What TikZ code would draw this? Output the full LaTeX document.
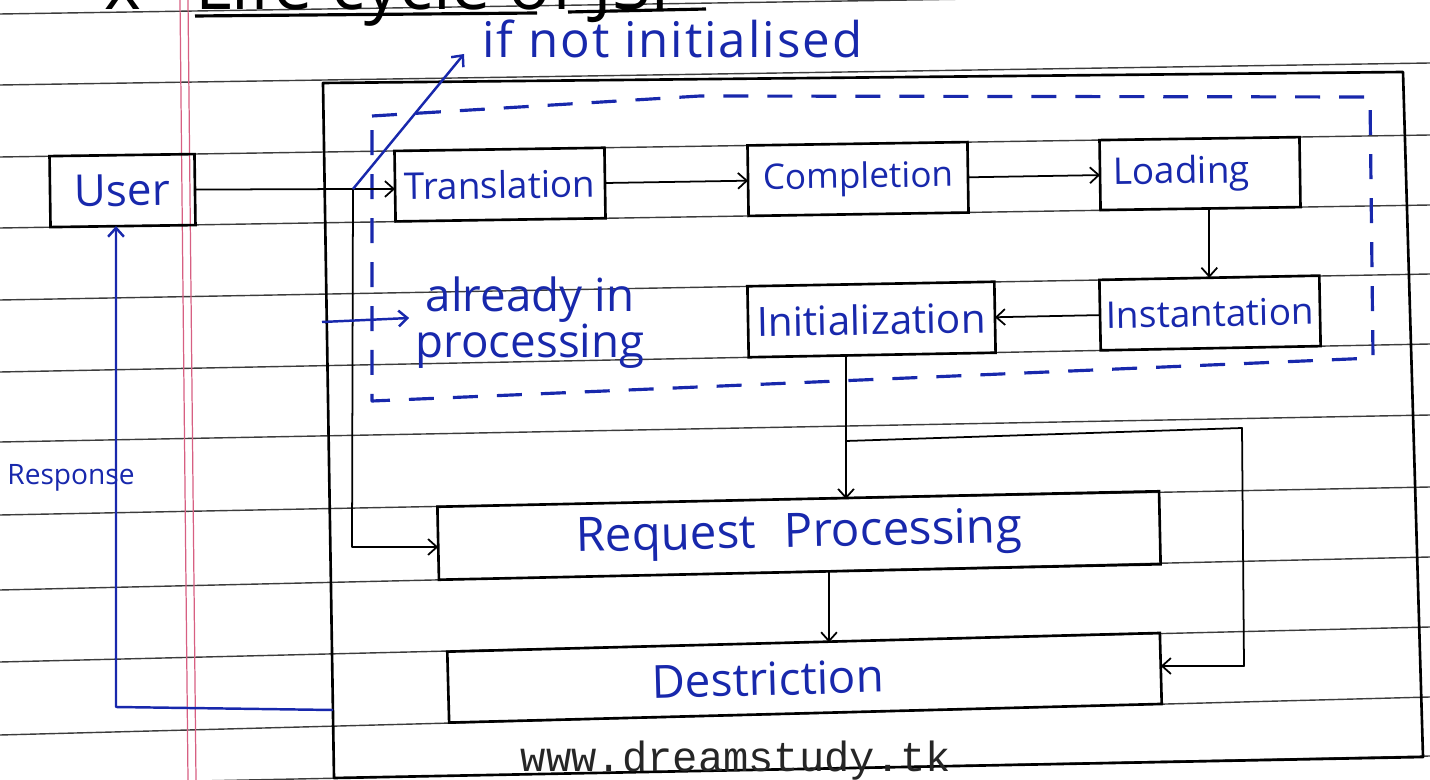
\documentclass[tikz,border=0pt]{standalone}
\usepackage{fontspec}
\newfontfamily\hand{Open Sans}
\newfontfamily\mono{Liberation Mono}
\usetikzlibrary{arrows.meta,calc}

\definecolor{ink}{RGB}{24,40,172}
\definecolor{rulegray}{RGB}{60,60,60}
\definecolor{marginred}{RGB}{215,95,130}

\tikzset{
  ruled/.style={draw=rulegray, line width=0.8pt},
  marginline/.style={draw=marginred, line width=0.7pt},
  stage/.style={draw=black, line width=1.5pt, inner sep=0pt, outer sep=0pt,
                text=ink, font=\hand\fontsize{21}{21}\selectfont},
  bigstage/.style={stage, font=\hand\fontsize{27}{27}\selectfont},
  wire/.style={draw=black, line width=1pt, line join=round},
  conn/.style={wire, -{Straight Barb[length=5pt,width=9pt]}},
  blueline/.style={draw=ink, line width=1.4pt, line join=round},
  bluearr/.style={blueline, -{Straight Barb[length=5pt,width=9pt]}},
  note/.style={text=ink, inner sep=0pt, font=\hand\fontsize{26}{20.5}\selectfont},
  penline/.style={draw=black, line width=1.5pt, line join=round},
  heading/.style={inner sep=0pt, text depth=0pt, font=\hand\fontsize{40}{40}\selectfont},
}

\begin{document}
\begin{tikzpicture}[x=0.02cm, y=-0.02cm]
\useasboundingbox (0,0) rectangle (1430,780);
\begin{scope}
\clip (0,0) rectangle (1430,780);

% ruled notebook paper
\foreach \yl/\yr in {14/-8, 85/63, 157/135, 228/205, 300/274, 372/344,
                     442/415, 515/487, 590/557, 662/627, 735/697, 785/756}
  \draw[ruled] (0,\yl) -- (1430,\yr);
\draw[marginline] (180,0) -- (188,780);
\draw[marginline] (188,0) -- (196,780);

% heading, mostly above the top edge of the page
\node[heading, anchor=base] (bullet) at (123,10) {x};
\node[heading, anchor=base west] (title) at (195,10) {Life cycle of JSP};
\draw[penline, line width=1.8pt] (195,16) -- (537,13);
\draw[penline, line width=1.8pt] (568,12) -- (706,9);

% container of the whole life cycle
\draw[penline] (323,83) -- (1403,72) -- (1423,757) -- (334,778) -- cycle;

% dashed frame round the first-request phases
\draw[ink, line width=1.8pt, dash pattern=on 0.5cm off 0.38cm, line join=round]
  (372,116) -- (700,96) -- (1370,97) -- (1373,358) -- (372,401) -- cycle;

% phases
\node[stage, font=\hand\fontsize{25}{25}\selectfont, minimum width=2.9cm, minimum height=1.42cm, rotate=0.8] (user) at (122.5,190.6) {User};
\node[stage, minimum width=4.2cm, minimum height=1.41cm, rotate=0.87] (trans) at (500,184.6) {Translation};
\node[stage, font=\hand\fontsize{20}{20}\selectfont, minimum width=4.4cm, minimum height=1.41cm, rotate=0.88] (comp) at (858,179) {Completion};
\node[stage, minimum width=4.0cm, minimum height=1.40cm, rotate=0.85] (load) at (1200,173.6) {Loading\hspace*{1em}};
\node[stage, minimum width=4.4cm, minimum height=1.41cm, rotate=1.1] (inst) at (1210,313) {Instantation};
\node[stage, font=\hand\fontsize{23}{23}\selectfont, minimum width=4.94cm, minimum height=1.42cm, rotate=1.05] (init) at (871.5,319.5) {Initialization};
\node[bigstage, minimum width=14.44cm, minimum height=1.46cm, rotate=1.23] (rp) at (799,535.5) {Request\hspace{0.6em}Processing};
\node[bigstage, font=\hand\fontsize{26}{26}\selectfont, minimum width=14.26cm, minimum height=1.42cm, rotate=1.5] (dest) at (804.5,677.8) {Destriction\hspace*{1.6em}};

% request from the user
\coordinate (J) at (353,189);
\coordinate (K) at (352,547);
\draw[wire] (user.east) -- (J);
\draw[conn] (J) -- (trans.west |- J);
\draw[conn] (J) -- (K) -- (rp.west |- K);

\coordinate (nitip) at (464,54);
\draw[bluearr] (J) -- (nitip);
\node[note, font=\hand\fontsize{28}{28}\selectfont\addfontfeatures{LetterSpace=4}, anchor=base west] (notinit) at (482,58) {if not initialised};

\coordinate (apS) at (322,322);
\node[note, align=center, anchor=base] (already) at (530,358) {already in\\processing};
\draw[bluearr] (apS) -- ($(already.west |- apS)+(-6,-4)$);

% first-request chain
\draw[conn] (trans.east) -- (comp.west);
\draw[conn] (comp.east) -- (load.west);
\draw[conn] (load.south -| inst.north) -- (inst.north);
\draw[conn] (inst.west) -- (init.east);

\coordinate (ax) at (846,0);
\draw[conn] (init.south -| ax) -- (rp.north -| ax);

\coordinate (bx) at (829,0);
\draw[conn] (rp.south -| bx) -- (dest.north -| bx);

% shutdown path
\coordinate (lpA) at (846,441);
\coordinate (lpB) at (1242,428);
\coordinate (lpC) at (1244,666);
\draw[conn] (lpA) -- (lpB) -- (lpC) -- (dest.east |- lpC);

% response back to the user
\coordinate (rsS) at (333,710);
\coordinate (rsC) at (116,707);
\draw[bluearr] (rsS) -- (rsC) -- (user.south -| rsC);
\node[note, font=\hand\fontsize{16}{16}\selectfont] (resp) at (71,478) {Response};

% site address
\node[anchor=base, inner sep=0pt, text=black!85, font=\mono\fontsize{24}{24}\selectfont] (site) at (736,771) {www.dreamstudy.tk};
\end{scope}
\end{tikzpicture}
\end{document}
